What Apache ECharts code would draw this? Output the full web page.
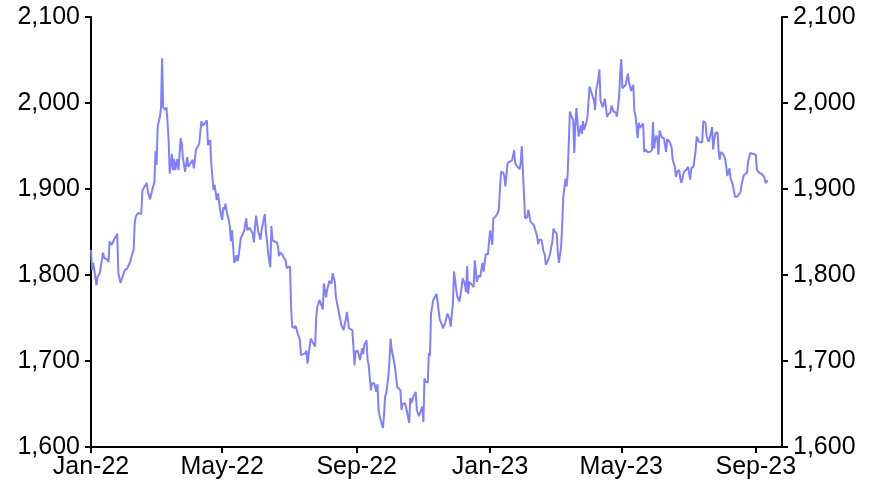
<!DOCTYPE html>
<html>
<head>
<meta charset="utf-8">
<script src="https://cdn.jsdelivr.net/npm/echarts@6/dist/echarts.min.js"></script>
<style>
    html, body { margin: 0; padding: 0; background: #fff; }
    #chart { width: 880px; height: 490px; }
</style>
</head>
<body>
<div id="chart"></div>
<script>
// x positions are days since 1 Jan 2022
const tickDays = [0, 120, 243, 365, 485, 608];
const tickLabels = ["Jan-22", "May-22", "Sep-22", "Jan-23", "May-23", "Sep-23"];

const days = [
    0, 1, 2, 3, 5, 6, 8, 11, 12, 15, 16, 17, 19, 21, 24, 25, 27, 28, 31, 33,
    36, 38, 39, 40, 41, 43, 46, 47, 49, 51, 52, 54, 56, 58, 59, 60, 61, 63, 64, 65,
    66, 68, 69, 70, 71, 72, 74, 75, 76, 77, 79, 80, 82, 83, 84, 86, 88, 89, 91, 93,
    94, 95, 96, 98, 99, 101, 102, 104, 106,
    107, 109, 110, 111, 112, 113, 115, 116, 117, 118, 120, 121, 122, 123, 124, 126, 127, 128, 129, 131,
    132, 133, 134, 135, 137, 139, 140, 142, 143, 145, 146, 148, 149, 150, 151, 153, 154, 155, 156, 157,
    159, 160, 161, 162, 164, 165, 166, 168, 170, 171, 172, 173, 175, 176, 178, 179, 180, 182, 183, 184,
    186, 187, 188, 189, 190, 191, 192, 194, 196, 197, 198, 200, 201, 203, 205,
    206, 207, 209, 210, 212, 213, 215, 216, 218, 220, 221, 223, 224, 226, 228, 229, 231, 233, 234, 236,
    237, 239, 240, 241, 242, 244, 245, 246, 248, 249, 250, 252, 253, 254, 256, 257, 258, 259, 261, 262,
    263, 264, 265, 267, 268, 269, 270, 272, 273, 274, 275, 276, 278, 279, 280, 281, 283, 284, 285, 287,
    288, 289, 291, 292, 293, 294, 295, 297, 298, 299, 300, 301, 303, 304, 305, 306, 308, 309, 310, 311,
    313,
    314, 316, 317, 319, 321, 322, 324, 326, 328, 329, 331, 332, 333, 334, 335, 337, 338, 339, 340, 342,
    343, 344, 345, 346, 348, 350, 351, 353, 354, 356, 357, 358, 359, 361, 363, 364, 365, 367, 368, 370,
    372, 373, 374, 375, 377, 378, 379, 381, 382, 383, 385, 387, 388, 390, 392, 393, 394, 395, 397, 398,
    399, 400, 402, 403, 405, 406, 408, 409, 410, 412, 414, 415, 416,
    418, 420, 421, 422, 423, 424, 426, 427, 428, 429, 430, 431, 432, 434, 435, 436, 437, 438, 439, 440,
    441, 442, 443, 444, 445, 446, 448, 449, 450, 451, 453, 454, 456, 457, 458, 460, 461, 462, 464, 465,
    466, 467, 468, 470, 471, 472, 473, 475, 476, 478, 480, 481, 483, 484, 485, 486, 487, 489, 490, 491,
    492, 494, 495, 496, 497, 498, 500, 501, 502, 503, 505, 506, 507, 508, 509, 511, 513, 514, 515, 516,
    517, 518, 519, 520,
    522, 524, 525, 526, 527, 529, 531, 532, 534, 535, 536, 538, 539, 540, 542, 543, 545, 546, 548, 549,
    551, 552, 553, 554, 556, 557, 559, 560, 562, 563, 564, 565, 567, 568, 569, 570, 571, 573, 574, 575,
    576, 578, 579, 580, 581, 582, 584, 585, 586, 587, 589, 590, 591, 592, 594, 595, 597, 598, 600, 601,
    603, 605, 606, 608, 609, 611, 612, 614, 616, 617, 619
];

const prices = [
    1829, 1806, 1814, 1806, 1788, 1798, 1802, 1826, 1820, 1818, 1815, 1839, 1835, 1841, 1848, 1802, 1791, 1795, 1806, 1807,
    1816, 1826, 1829, 1861, 1868, 1872, 1871, 1898, 1903, 1907, 1897, 1888, 1899, 1908, 1944, 1928, 1973, 1984, 1994, 2052,
    1995, 1992, 1995, 1977, 1957, 1918, 1941, 1922, 1935, 1922, 1935, 1922, 1959, 1953, 1937, 1920, 1937, 1926, 1930, 1934,
    1924, 1934, 1946, 1950, 1953, 1979, 1974, 1976, 1980,
    1951, 1957, 1930, 1914, 1899, 1905, 1887, 1895, 1887, 1876, 1864, 1879, 1876, 1883, 1874, 1864, 1856, 1839, 1852, 1814,
    1818, 1823, 1816, 1822, 1843, 1848, 1851, 1866, 1852, 1855, 1856, 1848, 1838, 1856, 1869, 1850, 1846, 1841, 1852, 1850,
    1871, 1850, 1840, 1825, 1809, 1857, 1840, 1839, 1838, 1833, 1822, 1826, 1824, 1821, 1817, 1808, 1810, 1810, 1763, 1740,
    1738, 1741, 1737, 1732, 1734, 1725, 1707, 1708, 1709, 1712, 1697, 1717, 1726, 1721, 1717,
    1752, 1763, 1771, 1773, 1760, 1790, 1774, 1783, 1793, 1790, 1802, 1792, 1774, 1761, 1748, 1742, 1736, 1748, 1757, 1738,
    1737, 1736, 1717, 1695, 1711, 1712, 1711, 1701, 1715, 1708, 1719, 1724, 1701, 1695, 1666, 1674, 1675, 1674, 1664, 1673,
    1643, 1636, 1631, 1622, 1637, 1659, 1662, 1682, 1701, 1726, 1713, 1707, 1693, 1682, 1670, 1672, 1666, 1643, 1650, 1651,
    1647, 1641, 1628, 1657, 1651, 1650, 1659, 1664, 1643, 1639, 1636, 1634, 1647, 1629, 1680, 1676, 1675, 1709, 1706, 1755,
    1771,
    1771, 1778, 1769, 1748, 1742, 1738, 1745, 1755, 1749, 1740, 1767, 1804, 1794, 1783, 1775, 1769, 1771, 1786, 1796, 1789,
    1780, 1810, 1778, 1792, 1789, 1786, 1817, 1792, 1799, 1798, 1798, 1814, 1804, 1824, 1824, 1823, 1852, 1835, 1866, 1868,
    1872, 1876, 1899, 1920, 1919, 1915, 1903, 1930, 1931, 1932, 1933, 1945, 1930, 1926, 1923, 1930, 1950, 1922, 1866, 1866,
    1867, 1876, 1862, 1864, 1858, 1854, 1845, 1836, 1841, 1841, 1827, 1824, 1812,
    1817, 1825, 1833, 1839, 1854, 1851, 1848, 1825, 1814, 1814, 1833, 1860, 1891, 1912, 1903, 1918, 1920, 1990, 1986, 1983,
    1980, 1942, 1976, 1994, 1976, 1961, 1974, 1964, 1979, 1969, 1977, 1983, 2019, 2021, 2011, 2003, 1992, 2015, 2027, 2039,
    2003, 1999, 1995, 2005, 1994, 1984, 1987, 1989, 1997, 1990, 1989, 1984, 2007, 2034, 2051, 2017, 2019, 2021, 2022, 2034,
    2025, 2014, 2016, 2021, 1990, 1986, 1959, 1977, 1971, 1972, 1976, 1943, 1946, 1945, 1943, 1943, 1945, 1978, 1947, 1957,
    1962, 1959, 1940, 1968,
    1960, 1959, 1957, 1943, 1958, 1955, 1949, 1934, 1926, 1914, 1920, 1922, 1912, 1907, 1918, 1921, 1923, 1926, 1911, 1924,
    1926, 1927, 1945, 1961, 1955, 1955, 1954, 1979, 1977, 1962, 1958, 1955, 1965, 1972, 1946, 1957, 1965, 1966, 1945, 1934,
    1943, 1941, 1939, 1935, 1926, 1915, 1924, 1912, 1910, 1905, 1891, 1890, 1891, 1893, 1896, 1905, 1916, 1916, 1919, 1932,
    1942, 1941, 1940, 1940, 1922, 1919, 1919, 1917, 1913, 1907, 1910
];

const yMin = 1600;
const yMax = 2100;
const yStep = 100;

const fontFamily = "'Liberation Sans', Arial, sans-serif";
const fontSize = 25;

function yAxis(position) {
    return {
        type: "value",
        position: position,
        min: yMin,
        max: yMax,
        interval: yStep,
        splitLine: { show: false },
        axisLine: { show: true, lineStyle: { color: "#000", width: 2 } },
        axisTick: { show: true, length: 6, lineStyle: { color: "#000", width: 2 } },
        axisLabel: {
            color: "#000",
            fontSize: fontSize,
            fontFamily: fontFamily,
            margin: 11,
            formatter: (v) => v.toLocaleString("en-US"),
        },
    };
}

const chart = echarts.init(document.getElementById("chart"));
chart.setOption({
    animation: false,
    grid: { left: 91, right: 98, top: 17, bottom: 43 },
    xAxis: {
        type: "value",
        min: 0,
        max: 632,
        splitLine: { show: false },
        axisLine: { lineStyle: { color: "#000", width: 2 } },
        axisTick: {
            show: true,
            length: 6,
            customValues: tickDays,
            lineStyle: { color: "#000", width: 2 },
        },
        axisLabel: {
            color: "#000",
            fontSize: fontSize,
            fontFamily: fontFamily,
            margin: 8,
            customValues: tickDays,
            formatter: (v) => tickLabels[tickDays.indexOf(v)],
        },
    },
    yAxis: [yAxis("left"), yAxis("right")],
    series: [
        {
            type: "line",
            yAxisIndex: 0,
            showSymbol: false,
            data: days.map((d, i) => [d, prices[i]]),
            lineStyle: { color: "#8080ff", width: 2 },
            itemStyle: { color: "#8080ff" },
        },
    ],
});
</script>
</body>
</html>
